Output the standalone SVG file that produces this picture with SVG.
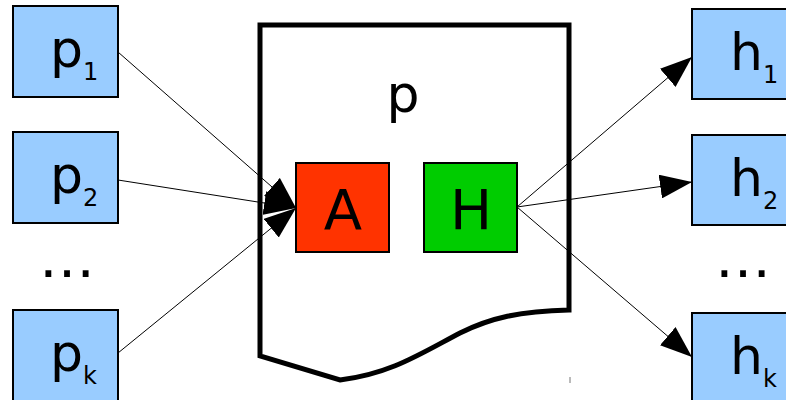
<svg xmlns="http://www.w3.org/2000/svg" width="786" height="400" viewBox="0 0 786 400">
<style>
text{font-family:"DejaVu Sans",Verdana,sans-serif;fill:#000}
.box{fill:#99CCFF;stroke:#000;stroke-width:2}
.lbl{font-size:52px}
.sub{font-size:24px}
.dots{font-size:56px}
.conn{stroke:#000;stroke-width:1;fill:none;marker-end:url(#ah)}
</style>
<defs>
<marker id="ah" markerUnits="userSpaceOnUse" viewBox="0 0 32 24" markerWidth="32" markerHeight="24" refX="32" refY="12" orient="auto">
<path d="M0,0 L32,12 L0,24 Z" fill="#000"/>
</marker>
</defs>
<rect width="786" height="400" fill="#fff"/>
<g id="doc">
<path d="M260,25 H569 V310 C520,311 490,318 460,333 C420,354 390,374 340,380 L260,356 Z" fill="#fff" stroke="#000" stroke-width="5" stroke-linejoin="miter"/>
<text x="403" y="112" class="lbl" text-anchor="middle">p</text>
<line x1="570" y1="377" x2="570" y2="383" stroke="#777" stroke-width="1"/>
</g>
<g id="A">
<rect x="296" y="163" width="93" height="89" fill="#FF3300" stroke="#000" stroke-width="2"/>
<text x="343" y="229" font-size="56" text-anchor="middle">A</text>
</g>
<g id="H">
<rect x="424" y="163" width="93" height="89" fill="#00CC00" stroke="#000" stroke-width="2"/>
<text x="471" y="229" font-size="56" text-anchor="middle">H</text>
</g>
<g id="p1">
<rect class="box" x="13" y="6" width="105" height="91"/>
<text x="50" y="67" class="lbl">p<tspan class="sub" dy="13">1</tspan></text>
</g>
<g id="p2">
<rect class="box" x="13" y="132" width="105" height="91"/>
<text x="50" y="193" class="lbl">p<tspan class="sub" dy="13">2</tspan></text>
</g>
<g id="pdots"><text x="67" y="277" class="dots" text-anchor="middle">…</text></g>
<g id="pk">
<rect class="box" x="13" y="310" width="105" height="100"/>
<text x="50" y="371" class="lbl">p<tspan class="sub" dy="13">k</tspan></text>
</g>
<g id="h1">
<rect class="box" x="692" y="9" width="105" height="90"/>
<text x="730" y="70" class="lbl">h<tspan class="sub" dy="13">1</tspan></text>
</g>
<g id="h2">
<rect class="box" x="692" y="135" width="105" height="90"/>
<text x="730" y="196" class="lbl">h<tspan class="sub" dy="13">2</tspan></text>
</g>
<g id="hdots"><text x="743" y="277" class="dots" text-anchor="middle">…</text></g>
<g id="hk">
<rect class="box" x="692" y="313" width="105" height="100"/>
<text x="730" y="374" class="lbl">h<tspan class="sub" dy="13">k</tspan></text>
</g>
<g id="connectors">
<line class="conn" x1="118" y1="52" x2="296" y2="208"/>
<line class="conn" x1="118" y1="180" x2="296" y2="208"/>
<line class="conn" x1="118" y1="353" x2="296" y2="208"/>
<line class="conn" x1="517" y1="207" x2="692" y2="57"/>
<line class="conn" x1="517" y1="207" x2="692" y2="182"/>
<line class="conn" x1="517" y1="207" x2="692" y2="357"/>
</g>
</svg>
